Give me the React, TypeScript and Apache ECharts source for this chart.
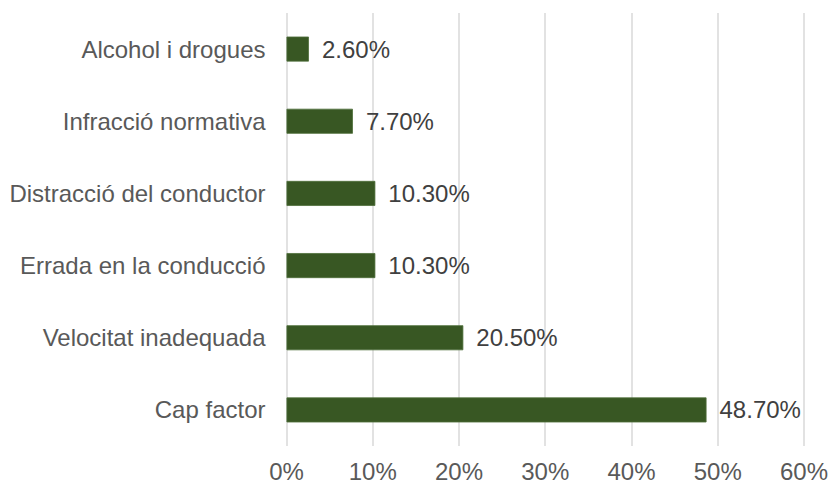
import React, { useEffect, useRef } from "react";
import * as echarts from "echarts";

const categories = [
  "Cap factor",
  "Velocitat inadequada",
  "Errada en la conducció",
  "Distracció del conductor",
  "Infracció normativa",
  "Alcohol i drogues",
];
const values = [48.7, 20.5, 10.3, 10.3, 7.7, 2.6];

export default function App() {
  const ref = useRef<HTMLDivElement>(null);
  useEffect(() => {
    const chart = echarts.init(ref.current!, null, { renderer: "svg" });
    const font = "'Liberation Sans', Arial, sans-serif";
    chart.setOption({
      animation: false,
      grid: { left: 286.5, right: 25.5, top: 13, bottom: 39, containLabel: false },
      xAxis: {
        type: "value",
        min: 0,
        max: 60,
        interval: 10,
        axisLine: { show: false },
        axisTick: { show: false },
        axisLabel: {
          formatter: "{value}%",
          color: "#595959",
          fontSize: 24,
          fontFamily: font,
          margin: 13,
        },
        splitLine: { show: true, lineStyle: { color: "#d9d9d9", width: 1.5 } },
      },
      yAxis: {
        type: "category",
        data: categories,
        axisLine: { show: false },
        axisTick: { show: false },
        axisLabel: {
          color: "#595959",
          fontSize: 24,
          fontFamily: font,
          margin: 21,
        },
      },
      series: [
        {
          type: "bar",
          data: values,
          barWidth: 25,
          itemStyle: { color: "#385723", borderColor: "#4e6e3a", borderWidth: 0.8 },
          label: {
            show: true,
            position: "right",
            distance: 13,
            formatter: (p: any) => p.value.toFixed(2) + "%",
            color: "#404040",
            fontSize: 24,
            fontFamily: font,
          },
        },
      ],
    });
    return () => chart.dispose();
  }, []);
  return (
    <div
      ref={ref}
      style={{ position: "absolute", left: 0, top: 0, width: 831, height: 485 }}
    />
  );
}
